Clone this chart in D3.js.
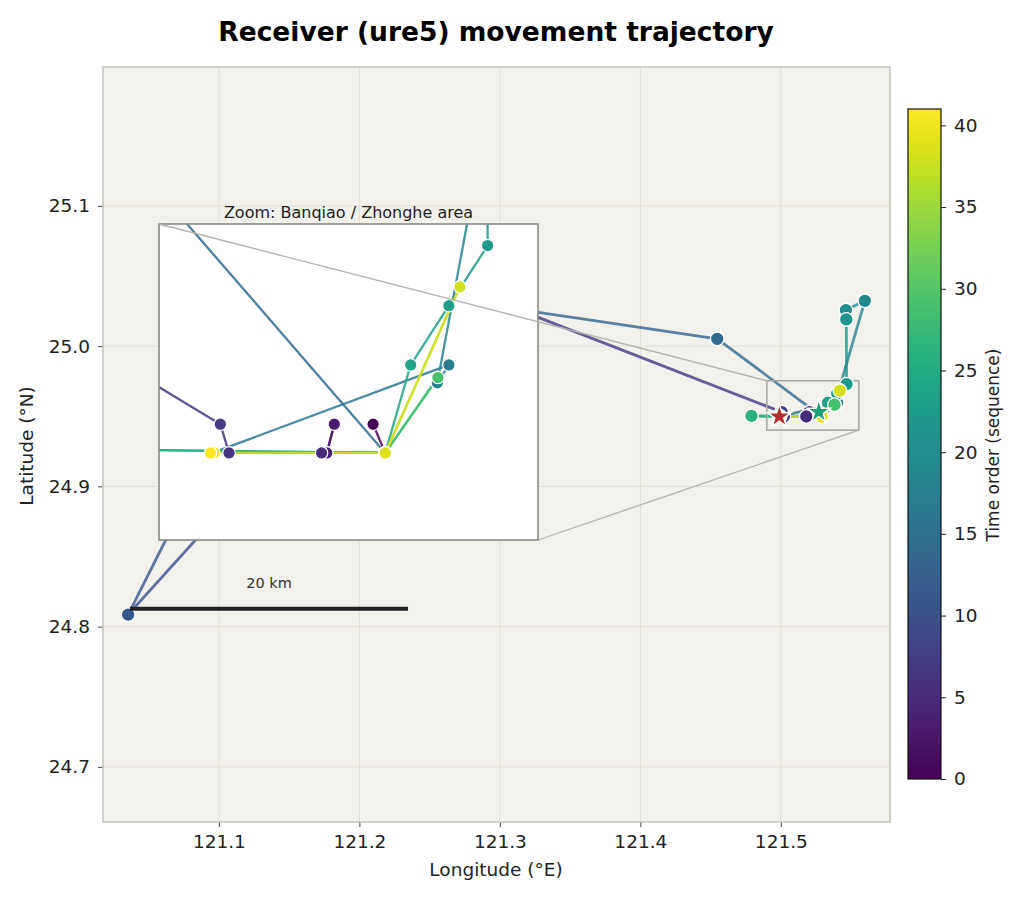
<!DOCTYPE html>
<html>
<head>
<meta charset="utf-8">
<script src="https://cdn.jsdelivr.net/npm/d3@7"></script>
<style>
body { margin: 0; background: #fff; }
text { font-family: "DejaVu Sans", sans-serif; }
</style>
</head>
<body>
<div id="chart"></div>
<script>
// receiver positions, in time order (index = sequence number)
var lons = [121.5270, 121.5291, 121.5190, 121.5203, 121.5190, 121.5181, 121.5021, 121.5006,
            121.2528, 121.2400, 121.2150, 121.0354, 121.1200, 121.1564,
            121.4547, 121.5291, 121.4992, 121.5401, 121.5381, 121.5598, 121.5463, 121.5466,
            121.5468, 121.5401, 121.5335, 121.5291, 121.4791, 121.5291, 121.5291, 121.5382,
            121.5291, 121.5291, 121.5291, 121.5291, 121.5291, 121.5291, 121.5291, 121.5291,
            121.5420, 121.5291, 121.4995, 121.4989];
var lats = [24.9530, 24.9498, 24.9498, 24.9530, 24.9498, 24.9498, 24.9498, 24.9530,
            25.0495, 25.0320, 25.0076, 24.8086, 24.9769, 25.0493,
            25.0052, 24.9498, 24.9498, 24.9596, 24.9576, 25.0323, 25.0257, 25.0190,
            24.9729, 24.9662, 24.9596, 24.9498, 24.9502, 24.9498, 24.9498, 24.9582,
            24.9498, 24.9498, 24.9498, 24.9498, 24.9498, 24.9498, 24.9498, 24.9498,
            24.9683, 24.9498, 24.9498, 24.9498];

var xTicks = [121.1, 121.2, 121.3, 121.4, 121.5];
var yTicks = [24.7, 24.8, 24.9, 25.0, 25.1];
var cbTicks = [0, 5, 10, 15, 20, 25, 30, 35, 40];

var zoomLon = [121.4900, 121.5555];
var zoomLat = [24.9401, 24.9753];

var scaleKm = 20;
var scaleLon = 121.0367, scaleLat = 24.8128;

var titleText = "Receiver (ure5) movement trajectory";
var insetTitle = "Zoom: Banqiao / Zhonghe area";

var pts = lons.map(function (d, i) { return { i: i, lon: d, lat: lats[i] }; });
var segs = d3.pairs(pts);
var nMax = pts.length - 1;

var W = 1024, H = 901;
var plot = { left: 103, top: 67, right: 890, bottom: 822 };
var inset = { left: 159, top: 224, right: 538, bottom: 540 };

var x = d3.scaleLinear().domain([121.0175, 121.5777]).range([plot.left, plot.right]);
var y = d3.scaleLinear().domain([24.6607, 25.1990]).range([plot.bottom, plot.top]);
var xi = d3.scaleLinear().domain(zoomLon).range([inset.left, inset.right]);
var yi = d3.scaleLinear().domain(zoomLat).range([inset.bottom, inset.top]);
var color = d3.scaleSequential(d3.interpolateViridis).domain([0, nMax]);

var svg = d3.select("#chart").append("svg").attr("width", W).attr("height", H);

svg.append("text").attr("x", 496).attr("y", 41).attr("text-anchor", "middle")
    .style("font-size", "26.5px").style("font-weight", "bold").text(titleText);

var defs = svg.append("defs");
defs.append("clipPath").attr("id", "clipMain").append("rect")
    .attr("x", plot.left).attr("y", plot.top)
    .attr("width", plot.right - plot.left).attr("height", plot.bottom - plot.top);
defs.append("clipPath").attr("id", "clipInset").append("rect")
    .attr("x", inset.left).attr("y", inset.top)
    .attr("width", inset.right - inset.left).attr("height", inset.bottom - inset.top);

// background + grid
svg.append("rect").attr("x", plot.left).attr("y", plot.top)
    .attr("width", plot.right - plot.left).attr("height", plot.bottom - plot.top)
    .attr("fill", "#f2f1ec");
svg.append("g").selectAll("line").data(xTicks).join("line")
    .attr("x1", d => x(d)).attr("x2", d => x(d)).attr("y1", plot.top).attr("y2", plot.bottom)
    .attr("stroke", "#e0ded6").attr("stroke-width", 1);
svg.append("g").selectAll("line").data(yTicks).join("line")
    .attr("y1", d => y(d)).attr("y2", d => y(d)).attr("x1", plot.left).attr("x2", plot.right)
    .attr("stroke", "#e0ded6").attr("stroke-width", 1);

// axes
var xAxis = d3.axisBottom(x).tickValues(xTicks).tickFormat(d3.format(".1f")).tickSize(5).tickPadding(8);
var yAxis = d3.axisLeft(y).tickValues(yTicks).tickFormat(d3.format(".1f")).tickSize(5).tickPadding(8);
var gx = svg.append("g").attr("transform", "translate(0," + plot.bottom + ")").call(xAxis);
var gy = svg.append("g").attr("transform", "translate(" + plot.left + ",0)").call(yAxis);
[gx, gy].forEach(function (g) {
    g.select(".domain").remove();
    g.selectAll(".tick line").attr("stroke", "#444");
    g.selectAll(".tick text").style("font-size", "18.5px").attr("fill", "#222");
});

svg.append("text").attr("x", 496).attr("y", 876).attr("text-anchor", "middle")
    .style("font-size", "18.5px").attr("fill", "#222").text("Longitude (°E)");
svg.append("text").attr("transform", "translate(33,446) rotate(-90)").attr("text-anchor", "middle")
    .style("font-size", "18.5px").attr("fill", "#222").text("Latitude (°N)");

// main trajectory
var main = svg.append("g").attr("clip-path", "url(#clipMain)");
main.append("g").selectAll("line").data(segs).join("line")
    .attr("x1", d => x(d[0].lon)).attr("y1", d => y(d[0].lat))
    .attr("x2", d => x(d[1].lon)).attr("y2", d => y(d[1].lat))
    .attr("stroke", d => color(d[0].i)).attr("stroke-width", 2.8).attr("stroke-opacity", 0.8);

// zoom indicator rectangle
main.append("rect")
    .attr("x", x(zoomLon[0])).attr("y", y(zoomLat[1]))
    .attr("width", x(zoomLon[1]) - x(zoomLon[0])).attr("height", y(zoomLat[0]) - y(zoomLat[1]))
    .attr("fill", "none").attr("stroke", "#a9a8a2").attr("stroke-width", 1.6);

main.append("g").selectAll("circle").data(pts).join("circle")
    .attr("cx", d => x(d.lon)).attr("cy", d => y(d.lat)).attr("r", 6.8)
    .attr("fill", d => color(d.i)).attr("stroke", "#fff").attr("stroke-width", 1.3);

// start / end stars
var star = d3.symbol().type(d3.symbolStar).size(170);
main.append("path").attr("d", star)
    .attr("transform", "translate(" + x(pts[0].lon) + "," + y(pts[0].lat) + ")")
    .attr("fill", "#1b9e77").attr("stroke", "#fff").attr("stroke-width", 1.5);
main.append("path").attr("d", star)
    .attr("transform", "translate(" + x(pts[nMax].lon) + "," + y(pts[nMax].lat) + ")")
    .attr("fill", "#b22e2e").attr("stroke", "#fff").attr("stroke-width", 1.5);

// scale bar
var kmPerDeg = 111.32 * Math.cos(scaleLat * Math.PI / 180);
var scaleEnd = scaleLon + scaleKm / kmPerDeg;
svg.append("line")
    .attr("x1", x(scaleLon)).attr("x2", x(scaleEnd)).attr("y1", y(scaleLat)).attr("y2", y(scaleLat))
    .attr("stroke", "#222").attr("stroke-width", 4);
svg.append("text").attr("x", x((scaleLon + scaleEnd) / 2)).attr("y", y(scaleLat) - 21)
    .attr("text-anchor", "middle").style("font-size", "14.5px").attr("fill", "#333")
    .text(scaleKm + " km");

svg.append("rect").attr("x", plot.left).attr("y", plot.top)
    .attr("width", plot.right - plot.left).attr("height", plot.bottom - plot.top)
    .attr("fill", "none").attr("stroke", "#c4c3bc").attr("stroke-width", 1.5);

// inset
svg.append("rect").attr("x", inset.left).attr("y", inset.top)
    .attr("width", inset.right - inset.left).attr("height", inset.bottom - inset.top)
    .attr("fill", "#fff");
var ig = svg.append("g").attr("clip-path", "url(#clipInset)");
ig.append("g").selectAll("line").data(segs).join("line")
    .attr("x1", d => xi(d[0].lon)).attr("y1", d => yi(d[0].lat))
    .attr("x2", d => xi(d[1].lon)).attr("y2", d => yi(d[1].lat))
    .attr("stroke", d => color(d[0].i)).attr("stroke-width", 2.3).attr("stroke-opacity", 0.85);
ig.append("g").selectAll("circle").data(pts).join("circle")
    .attr("cx", d => xi(d.lon)).attr("cy", d => yi(d.lat)).attr("r", 6.2)
    .attr("fill", d => color(d.i)).attr("stroke", "#fff").attr("stroke-width", 1.2);
svg.append("rect").attr("x", inset.left).attr("y", inset.top)
    .attr("width", inset.right - inset.left).attr("height", inset.bottom - inset.top)
    .attr("fill", "none").attr("stroke", "#8a8a86").attr("stroke-width", 1.6);
svg.append("text").attr("x", (inset.left + inset.right) / 2).attr("y", inset.top - 6)
    .attr("text-anchor", "middle").style("font-size", "16px").attr("fill", "#222").text(insetTitle);

// connectors from inset corners to the zoom rectangle
var conn = [
    [inset.left, inset.top, x(zoomLon[0]), y(zoomLat[1])],
    [inset.right, inset.bottom, x(zoomLon[1]), y(zoomLat[0])]
];
svg.append("g").selectAll("line").data(conn).join("line")
    .attr("x1", d => d[0]).attr("y1", d => d[1]).attr("x2", d => d[2]).attr("y2", d => d[3])
    .attr("stroke", "#b5b4ae").attr("stroke-width", 1.3);

// colorbar
var cb = { left: 908, width: 33 };
var cy = d3.scaleLinear().domain([0, nMax]).range([779, 109]);
var grad = defs.append("linearGradient").attr("id", "viridis")
    .attr("x1", "0%").attr("y1", "100%").attr("x2", "0%").attr("y2", "0%");
d3.range(0, 1.0001, 0.05).forEach(function (t) {
    grad.append("stop").attr("offset", (t * 100) + "%").attr("stop-color", d3.interpolateViridis(t));
});
svg.append("rect").attr("x", cb.left).attr("y", cy(nMax)).attr("width", cb.width)
    .attr("height", cy(0) - cy(nMax)).attr("fill", "url(#viridis)")
    .attr("stroke", "#111").attr("stroke-width", 1.2);
var cAxis = d3.axisRight(cy).tickValues(cbTicks).tickSize(5).tickPadding(8);
var gc = svg.append("g").attr("transform", "translate(" + (cb.left + cb.width) + ",0)").call(cAxis);
gc.select(".domain").remove();
gc.selectAll(".tick line").attr("stroke", "#222");
gc.selectAll(".tick text").style("font-size", "18.5px").attr("fill", "#222");
svg.append("text").attr("transform", "translate(999,445) rotate(-90)").attr("text-anchor", "middle")
    .style("font-size", "17px").attr("fill", "#222").text("Time order (sequence)");
</script>
</body>
</html>
